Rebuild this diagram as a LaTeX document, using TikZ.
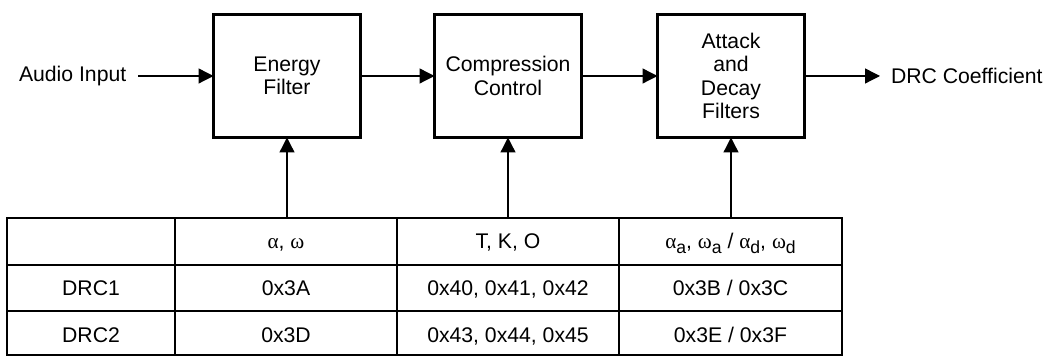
\documentclass[tikz,border=0pt]{standalone}
\usepackage{fontspec}
\setmainfont{Liberation Sans}
\newfontfamily\grk{Liberation Serif}
\usetikzlibrary{arrows.meta}
\newcommand{\sbs}[1]{\raisebox{-0.4ex}{\fontsize{8.8pt}{8.8pt}\selectfont #1}}
\begin{document}
\begin{tikzpicture}[x=0.5pt,y=-0.5pt,
  every node/.style={font=\fontsize{10.6pt}{11.7pt}\selectfont, inner sep=0pt, outer sep=0pt},
  blk/.style={draw, line width=1.7pt, minimum width=73.5pt, minimum height=61.5pt, align=center},
  sig/.style={-{Triangle[length=7.5pt,width=7.5pt]}, line width=0.65pt},
  tbl/.style={line width=1.3pt},
  cell/.style={anchor=base}]
\useasboundingbox (0,0) rectangle (1043,356);
% blocks
\node[blk] (b1) at (287,76) {Energy\\Filter};
\node[blk] (b2) at (508,76) {Compression\\Control};
\node[blk] (b3) at (731,76) {Attack\\and\\Decay\\Filters};
% labels
\node[anchor=west] (ain) at (19,76) {Audio Input};
\node[anchor=west] (drc) at (891,76) {DRC Coefficient};
% signal arrows
\draw[sig] ([xshift=6pt]ain.east) -- (b1.west);
\draw[sig] (b1.east) -- (b2.west);
\draw[sig] (b2.east) -- (b3.west);
\draw[sig] (b3.east) -- ([xshift=-5.5pt]drc.west);
% table
\draw[tbl] (7,218) rectangle (842,355);
\draw[tbl] (7,265) -- (842,265);
\draw[tbl] (7,311) -- (842,311);
\draw[tbl] (175,218) -- (175,355);
\draw[tbl] (397,218) -- (397,355);
\draw[tbl] (619,218) -- (619,355);
% table contents
\node[cell] (h2) at (286,249) {{\grk α}, {\grk ω}};
\node[cell] (h3) at (508,249) {T, K, O};
\node[cell] (h4) at (730.5,249) {{\grk α}\sbs{a}, {\grk ω}\sbs{a} / {\grk α}\sbs{d}, {\grk ω}\sbs{d}};
\node[cell] (r1c1) at (91,295.5) {DRC1};
\node[cell] (r1c2) at (286,295.5) {0x3A};
\node[cell] (r1c3) at (508,295.5) {0x40, 0x41, 0x42};
\node[cell] (r1c4) at (730.5,295.5) {0x3B / 0x3C};
\node[cell] (r2c1) at (91,342.5) {DRC2};
\node[cell] (r2c2) at (286,342.5) {0x3D};
\node[cell] (r2c3) at (508,342.5) {0x43, 0x44, 0x45};
\node[cell] (r2c4) at (730.5,342.5) {0x3E / 0x3F};
% parameter arrows
\coordinate (t1) at (287,218);
\coordinate (t2) at (508,218);
\coordinate (t3) at (731,218);
\draw[sig] (t1) -- (b1.south);
\draw[sig] (t2) -- (b2.south);
\draw[sig] (t3) -- (b3.south);
\end{tikzpicture}
\end{document}
